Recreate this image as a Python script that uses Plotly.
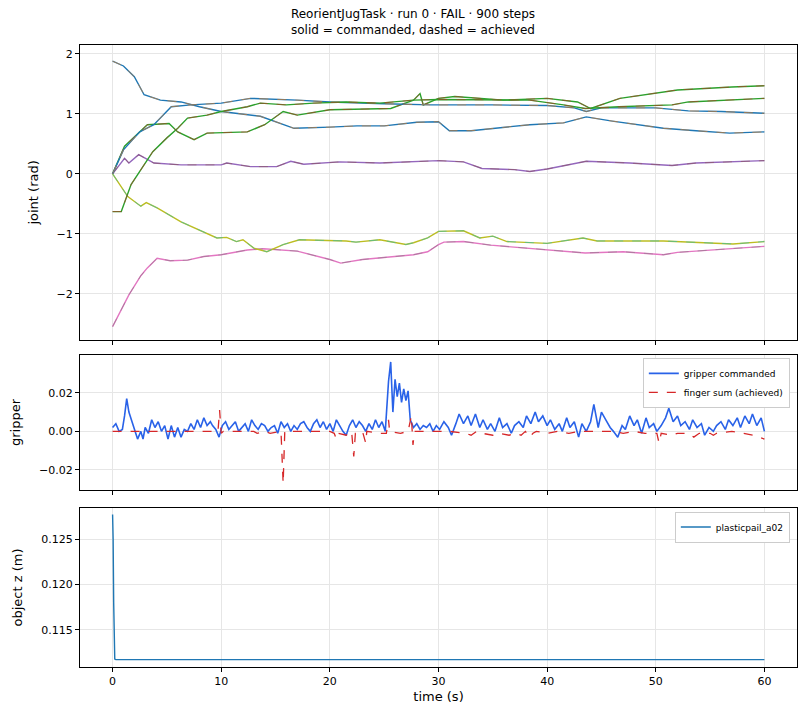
import plotly.graph_objects as go
from plotly.subplots import make_subplots

# ---- joint trajectories (rad) ----
j0_t = [0, 1, 2, 2.9, 4.4, 6.3, 8, 10, 13.6, 16.7, 20, 22.5, 25, 28, 30, 31, 33, 35.4, 38.4, 41.5, 43.6, 46, 50.7, 53.7, 56.8, 60]
j0_v = [1.88, 1.8, 1.62, 1.32, 1.23, 1.2, 1.12, 1.04, 0.96, 0.76, 0.78, 0.8, 0.8, 0.86, 0.87, 0.72, 0.72, 0.77, 0.82, 0.85, 0.95, 0.88, 0.76, 0.72, 0.68, 0.7]
j5_t = [0, 1, 2.5, 3.8, 5.4, 7.2, 10, 12.7, 17, 20, 25, 29.3, 35, 40, 42.5, 43.6, 45, 50, 53, 56, 60]
j5_v = [0, 0.4, 0.7, 0.82, 1.12, 1.15, 1.18, 1.26, 1.23, 1.2, 1.17, 1.15, 1.15, 1.14, 1.1, 1.04, 1.1, 1.1, 1.05, 1.04, 1.01]
j1_t = [0, 1.1, 3.2, 5.2, 6, 7.5, 8.7, 12.4, 14, 15.7, 17, 20, 25.6, 27.7, 28.3, 28.6, 30, 31.5, 36, 40, 42.8, 44, 46.7, 49, 52, 57, 60]
j1_v = [0, 0.46, 0.82, 0.84, 0.7, 0.57, 0.68, 0.7, 0.82, 1.04, 0.98, 1.07, 1.09, 1.23, 1.34, 1.15, 1.26, 1.29, 1.23, 1.26, 1.2, 1.09, 1.26, 1.32, 1.4, 1.45, 1.47]
j6_t = [0, 0.8, 1.7, 2.5, 3.7, 5.0, 6.0, 6.9, 8.7, 10, 12.4, 13.6, 16, 18.5, 21.5, 24.6, 27.7, 30, 38.4, 41.5, 43.5, 46.6, 51.5, 53, 60]
j6_v = [-0.63, -0.63, -0.18, 0.04, 0.37, 0.6, 0.76, 0.93, 0.98, 1.04, 1.12, 1.18, 1.15, 1.18, 1.2, 1.18, 1.23, 1.24, 1.23, 1.15, 1.09, 1.12, 1.15, 1.2, 1.26]
j2_t = [0, 1.1, 1.5, 2.4, 3.2, 3.8, 6.3, 10, 10.5, 12.7, 15.1, 16.4, 17.6, 20.9, 24.6, 27.7, 30, 32.3, 34, 37, 38.4, 40, 43.6, 47.6, 51.5, 53.7, 56.8, 60]
j2_v = [0, 0.26, 0.18, 0.32, 0.24, 0.18, 0.15, 0.15, 0.18, 0.12, 0.12, 0.21, 0.16, 0.2, 0.18, 0.2, 0.22, 0.2, 0.09, 0.07, 0.04, 0.08, 0.21, 0.18, 0.14, 0.18, 0.2, 0.22]
j3_t = [0, 1.5, 2.6, 3.2, 4.1, 5.3, 6.9, 8.4, 10, 12.4, 13.9, 17, 20, 21, 23, 25, 27.7, 29, 30, 30.5, 32.3, 34.8, 37, 40, 43.5, 47, 50.7, 52, 54.6, 57, 60]
j3_v = [-2.55, -2.02, -1.7, -1.57, -1.41, -1.45, -1.44, -1.38, -1.35, -1.27, -1.25, -1.29, -1.43, -1.49, -1.43, -1.4, -1.35, -1.3, -1.18, -1.14, -1.13, -1.19, -1.22, -1.27, -1.32, -1.3, -1.35, -1.31, -1.28, -1.25, -1.21]
j4_t = [0, 1.4, 2.6, 3.1, 4.1, 6.3, 9.6, 10.5, 11.4, 12, 13, 14.2, 15.7, 17.2, 21.5, 22.4, 24.6, 27, 27.7, 29, 30, 32.3, 33.8, 35, 36.3, 40, 43.3, 44.6, 50.7, 53.7, 57.1, 60]
j4_v = [0, -0.38, -0.54, -0.48, -0.57, -0.8, -1.07, -1.06, -1.13, -1.1, -1.24, -1.3, -1.18, -1.1, -1.12, -1.14, -1.1, -1.18, -1.15, -1.07, -0.96, -0.95, -1.07, -1.04, -1.13, -1.16, -1.07, -1.12, -1.12, -1.14, -1.17, -1.13]

joints = [(j0_t, j0_v), (j1_t, j1_v), (j2_t, j2_v), (j3_t, j3_v), (j4_t, j4_v), (j5_t, j5_v), (j6_t, j6_v)]

# ---- gripper (x1e-3) ----
grip_t = [0, 0.3, 0.6, 0.9, 1.1, 1.3, 1.5, 1.8, 2.1, 2.3, 2.6, 2.8, 3.0, 3.3, 3.6, 3.9, 4.2, 4.5, 4.8, 5.1, 5.4, 5.7, 6.0, 6.3, 6.6, 6.9,
          7.2, 7.5, 7.8, 8.1, 8.4, 8.7, 9.0, 9.2, 9.5, 9.8, 10.1, 10.4, 10.7, 11.0, 11.3, 11.6, 11.9, 12.2, 12.5, 12.8, 13.1, 13.4,
          13.7, 14.0, 14.3, 14.6, 14.9, 15.2, 15.5, 15.8, 16.1, 16.4, 16.7, 17.0, 17.3, 17.6, 17.9, 18.2, 18.5, 18.8, 19.1, 19.4,
          19.7, 20.0, 20.3, 20.6, 20.9, 21.2, 21.5, 21.8, 22.1, 22.4, 22.7, 23.0, 23.3, 23.6, 23.9, 24.2, 24.5, 24.8, 25.1, 25.4,
          25.6, 25.8, 26.0, 26.2, 26.4, 26.6, 26.8, 27.0, 27.2, 27.4, 27.7, 28.0, 28.3, 28.6, 28.9, 29.2, 29.5, 29.8,
          30.1, 30.5, 30.9, 31.2, 31.6, 31.9, 32.3, 32.7, 33.0, 33.4, 33.8, 34.1, 34.5, 34.8, 35.2, 35.6, 35.9, 36.3, 36.7, 37.0,
          37.4, 37.8, 38.1, 38.5, 38.9, 39.2, 39.6, 40.0, 40.3, 40.7, 41.1, 41.4, 41.8, 42.1, 42.5, 42.9, 43.2, 43.6, 44.0, 44.3,
          44.7, 45.0, 45.4, 45.8, 46.1, 46.5, 46.9, 47.2, 47.6, 48.0, 48.3, 48.7, 49.1, 49.4, 49.8, 50.1, 50.5, 50.9, 51.2, 51.6,
          52.0, 52.3, 52.7, 53.1, 53.4, 53.8, 54.2, 54.5, 54.9, 55.3, 55.6, 56.0, 56.4, 56.7, 57.1, 57.5, 57.8, 58.2, 58.6, 58.9,
          59.3, 59.7, 60.0]
grip_cmd = [2, 4, 0, 1, 8, 17, 10, 5, 0, -4, 0, -4, 2, -1, 6, 2, 5, 0, 3, -4, 3, -3, 2, -3, 1, 0,
            4, 1, 6, 2, 7, 3, 5, 3, 1, -3, 3, 5, 1, 3, 5, 0, 2, 4, 0, 6, 3, 1,
            4, 3, 0, 2, 3, -1, 5, 2, 4, 0, 3, 1, 4, 5, 2, 0, 4, 6, 2, 5,
            1, 4, 0, 6, 3, 0, -2, 3, 6, 2, 5, 3, 0, 4, 1, 6, 2, 5, 0, 26,
            36, 10, 27, 18, 25, 15, 22, 16, 21, 6, 2, 4, 1, 3, 2, 4, 0, 3,
            1, 5, 2, -2, 4, 9, 4, 8, 3, 9, 2, 6, 1, 4, 0, 7, 2, 4, -1, 3,
            5, 2, 8, 4, 10, 5, 8, 3, 6, 1, 4, 0, 7, 2, 5, -3, 4, 0, 5, 14,
            2, 10, 6, 2, 0, -3, 3, 1, 8, 3, 6, -1, 7, 2, 4, 0, 3, 7, 12, 5,
            8, 3, 5, 1, 6, 2, 4, -2, 2, 0, 3, 5, 1, 6, 3, 7, 2, 8, 4, 9,
            3, 7, 0]
fing_t = [0, 9.7, 9.85, 10.0, 10.2, 13, 13.3, 14, 14.5, 15.5, 15.7, 15.85, 20, 20.4, 20.6, 20.8, 21.5, 22.0, 22.2, 22.35, 23.0,
          23.3, 23.4, 24.5, 25.2, 25.4, 25.5, 26.5, 27.2, 27.5, 27.65, 27.8, 29, 31, 32.5, 33, 33.5, 34, 35, 35.5, 36.5, 37,
          37.6, 38, 38.4, 38.7, 39, 40, 41, 42, 43, 46, 47, 48, 49, 50.1, 50.3, 50.5, 51.5, 52, 53, 53.5, 54, 55, 55.3, 55.6,
          57, 58, 59, 60]
fing_sum = [0, 0, 11, -1, 0, 0, -1, 0, -1, 0, -27, 0, 0, -1, -4, -1, -2, 0, -13, -1, 0,
            -6, 0, -1, -1, 6, 0, -1, 0, 8, -7, 0, 0, 0, -1, -2, 0, -1, -2, -1, -2, -1,
            -2, 0, -3, -1, 0, -1, 0, -1, 0, 0, -1, 0, -1, -1, -6, -1, -2, -1, -1, -3, -1, -1, -2, -1,
            0, -1, -2, -4]

# ---- object height (m) ----
obj_t = [0, 0.05, 0.1, 0.15, 0.2, 0.3, 60]
obj_z = [0.1277, 0.125, 0.118, 0.1125, 0.1118, 0.11174, 0.11174]

tab = ["#1f77b4", "#ff7f0e", "#2ca02c", "#d62728", "#9467bd", "#8c564b",
       "#e377c2", "#7f7f7f", "#bcbd22", "#17becf"]

fig = make_subplots(rows=3, cols=1, shared_xaxes=True)

k = 0
for t, v in joints:
    fig.add_trace(go.Scatter(x=t, y=v, mode="lines", showlegend=False,
                             line=dict(color=tab[k % 10], width=1.4)), row=1, col=1)
    k += 1
    fig.add_trace(go.Scatter(x=t, y=v, mode="lines", showlegend=False, opacity=0.6,
                             line=dict(color=tab[k % 10], width=0.9, dash="dash")), row=1, col=1)
    k += 1

fig.add_trace(go.Scatter(x=grip_t, y=[g / 1000 for g in grip_cmd], mode="lines",
                         name="gripper commanded", legend="legend",
                         line=dict(color="#2962e8", width=1.6)), row=2, col=1)
fig.add_trace(go.Scatter(x=fing_t, y=[f / 1000 for f in fing_sum], mode="lines",
                         name="finger sum (achieved)", legend="legend",
                         line=dict(color="#d62728", width=1.3, dash="dash")), row=2, col=1)
fig.add_trace(go.Scatter(x=obj_t, y=obj_z, mode="lines", name="plasticpail_a02",
                         legend="legend2", line=dict(color="#1f77b4", width=1.4)), row=3, col=1)

ax = dict(showline=True, mirror=True, linecolor="black", linewidth=1, ticks="outside",
          ticklen=4, tickcolor="black", showgrid=True, gridcolor="#e6e6e6", zeroline=False,
          automargin=False)
for i in (1, 2, 3):
    fig.update_xaxes(ax, range=[-3, 63], dtick=10, row=i, col=1)
    fig.update_yaxes(ax, row=i, col=1)
fig.update_xaxes(showticklabels=False, row=1, col=1)
fig.update_xaxes(showticklabels=False, row=2, col=1)
fig.update_xaxes(title_text="time (s)", title_standoff=4, row=3, col=1)

fig.update_layout(
    width=810, height=720, template="simple_white",
    font=dict(family="DejaVu Sans", size=11, color="black"),
    margin=dict(l=72, r=21, t=37, b=61),
    title=dict(text="ReorientJugTask · run 0 · FAIL · 900 steps<br>solid = commanded, dashed = achieved",
               x=0.5, y=0.986, xanchor="center", yanchor="top", font=dict(size=12)),
    yaxis=dict(domain=[0.526, 1], range=[-2.77, 2.15], dtick=1, title_text="joint (rad)"),
    yaxis2=dict(domain=[0.2846, 0.5016], range=[-0.0304, 0.0396], dtick=0.02,
                tickformat=".2f", title_text="gripper"),
    yaxis3=dict(domain=[0, 0.2556], range=[0.11093, 0.12841], dtick=0.005,
                tickformat=".3f", title_text="object z (m)"),
    legend=dict(x=0.99, y=0.497, xanchor="right", yanchor="top", font=dict(size=9),
                bordercolor="#cccccc", borderwidth=1, bgcolor="white"),
    legend2=dict(x=0.99, y=0.25, xanchor="right", yanchor="top", font=dict(size=9),
                 bordercolor="#cccccc", borderwidth=1, bgcolor="white"),
)

fig.write_html("out.html")
